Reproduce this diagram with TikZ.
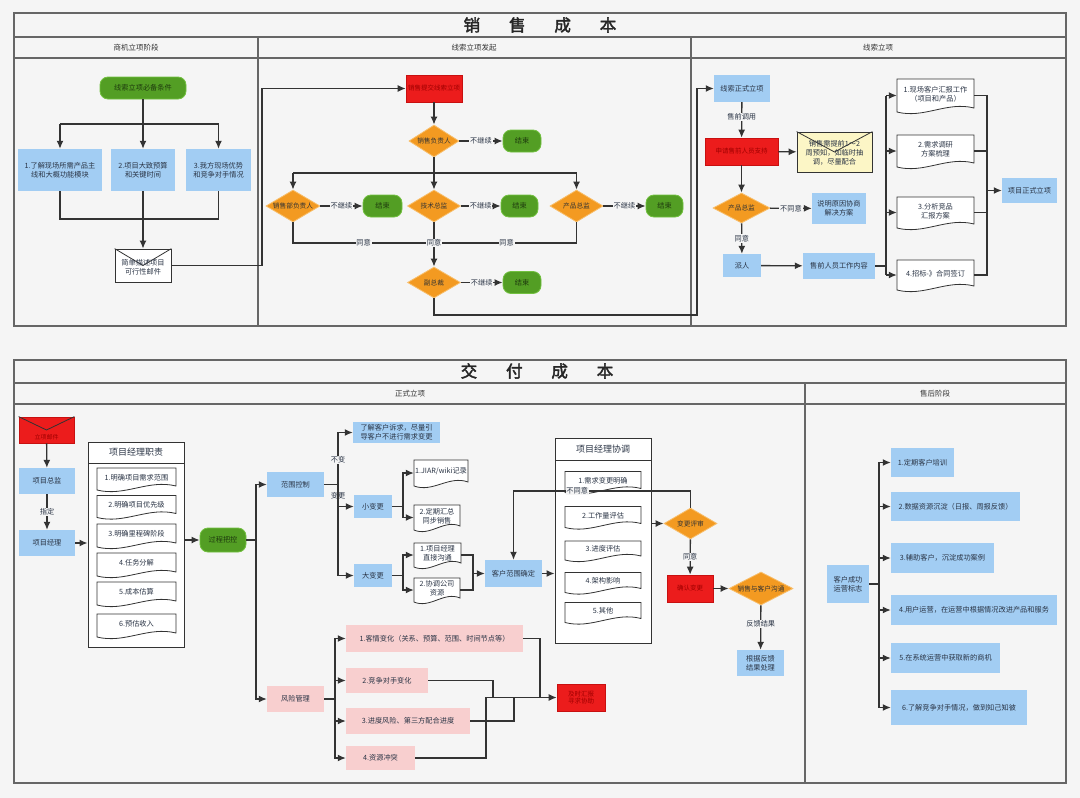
\documentclass[tikz,border=0pt]{standalone}
\usepackage{fontspec}
\setmainfont{Noto Sans CJK SC}
\newfontfamily\titlefont{Noto Sans CJK SC}[AutoFakeBold=2.5]
\usetikzlibrary{arrows.meta,shapes.geometric,calc}
\definecolor{bgC}{HTML}{F5F5F5}
\definecolor{blueC}{HTML}{A2CDF3}
\definecolor{pinkC}{HTML}{F8CFCF}
\definecolor{redC}{HTML}{EC1C1C}
\definecolor{redD}{HTML}{C81010}
\definecolor{redT}{HTML}{A00000}
\definecolor{greenC}{HTML}{539E24}
\definecolor{greenD}{HTML}{72C040}
\definecolor{greenT}{HTML}{1E3A0E}
\definecolor{orgC}{HTML}{F39A21}
\definecolor{orgD}{HTML}{F8BE6A}
\definecolor{yelC}{HTML}{FCF6C6}
\definecolor{txtC}{HTML}{2A3445}
\definecolor{lineC}{HTML}{333333}
\definecolor{frameC}{HTML}{666666}
\newcommand\fs{\fontsize{7.2}{8.8}\selectfont}
\newcommand\docnode[6]{%
  \draw[docline] ({#2-#4/2},{#3-#5/2}) -- ({#2+#4/2},{#3-#5/2}) -- ({#2+#4/2},{#3+#5/2-4})
    .. controls ({#2+#4/2-0.35*#4},{#3+#5/2-11}) and ({#2-#4/2+0.35*#4},{#3+#5/2+7}) .. ({#2-#4/2},{#3+#5/2}) -- cycle;
  \node[docs, minimum width=#4pt, minimum height=#5pt] (#1) at (#2,#3) {};
  \node[base] (#1t) at ([yshift=1.5pt]#1.center) {#6};
}
\newcommand\envnode[6]{%
  \node[envl, minimum width=#4pt, minimum height=#5pt, #6] (#1) at (#2,#3) {};
  \draw[line, line width=0.8pt] (#1.north west) -- (#1.center) -- (#1.north east);
}
\begin{document}
\begin{tikzpicture}[x=1pt,y=-1pt,
  base/.style={inner sep=1pt, align=center, font=\fs, text=txtC},
  sz/.style 2 args={minimum width=#1pt, minimum height=#2pt},
  blue/.style={base, rectangle, fill=blueC},
  pink/.style={base, rectangle, fill=pinkC},
  redb/.style={base, rectangle, fill=redC, draw=redD, line width=0.6pt, text=redT, font=\fontsize{6.5}{7.8}\selectfont},
  green/.style={base, rectangle, rounded corners=8pt, fill=greenC, draw=greenD, line width=0.8pt, text=greenT},
  dia/.style={base, diamond, aspect=2, inner sep=0pt, fill=orgC, draw=orgD, line width=0.8pt, font=\fontsize{6.7}{8}\selectfont, text=black!80},
  envl/.style={base, rectangle, draw=lineC, line width=0.8pt, fill=white},
  docs/.style={base, rectangle, inner sep=0pt},
  frm/.style={draw=frameC, line width=1.1pt},
  line/.style={draw=lineC, line width=1.3pt},
  arr/.style={line, -{Latex[length=8pt,width=7pt]}},
  lbl/.style={base, fill=bgC, inner sep=0.8pt},
  docline/.style={draw=lineC, line width=0.8pt, fill=white},
  cont/.style={draw=lineC, line width=1pt, fill=white},
  hdr/.style={base, font=\fontsize{7.5}{9}\selectfont, text=black!80},
  ttl/.style={base, font=\titlefont\bfseries\fontsize{16.5}{18}\selectfont, text=black!85}
]
\useasboundingbox (0,0) rectangle (1080,798);
\fill[bgC] (0,0) rectangle (1080,798);

% ===== top frame =====
\draw[frm] (14,13) rectangle (1066,326);
\draw[frm] (14,37) -- (1066,37);
\draw[frm] (14,58) -- (1066,58);
\draw[frm] (258,37) -- (258,326);
\draw[frm] (691,37) -- (691,326);
\node[ttl] (t1) at (540,25) {销\hspace{1.75em}售\hspace{1.75em}成\hspace{1.75em}本};
\node[hdr] (h1) at (136,48) {商机立项阶段};
\node[hdr] (h2) at (474,48) {线索立项发起};
\node[hdr] (h3) at (878,48) {线索立项};

% ===== bottom frame =====
\draw[frm] (14,360) rectangle (1066,783);
\draw[frm] (14,383) -- (1066,383);
\draw[frm] (14,404) -- (1066,404);
\draw[frm] (805,383) -- (805,783);
\node[ttl] (t2) at (537,371) {交\hspace{1.75em}付\hspace{1.75em}成\hspace{1.75em}本};
\node[hdr] (h4) at (410,393.5) {正式立项};
\node[hdr] (h5) at (935,393.5) {售后阶段};

% ===== top column 1 =====
\node[green, sz={86}{22}] (g1) at (143,88) {线索立项必备条件};
\node[blue, sz={84}{42}] (b1) at (60,170) {1.了解现场所需产品主\\线和大概功能模块};
\node[blue, sz={64}{42}] (b2) at (143,170) {2.项目大致预算\\和关键时间};
\node[blue, sz={65}{42}] (b3) at (218.5,170) {3.我方现场优势\\和竞争对手情况};
\envnode{env1}{143}{265.5}{56}{33}{}
\node[base] (env1t) at (143,267) {简单描述项目\\可行性邮件};
\coordinate (j1) at (143,124);
\coordinate (j2) at (143,219);
\draw[arr] (g1.south) -- (b2.north);
\draw[line] (j1 -| b1.north) -- (j1 -| b3.north);
\draw[arr] (j1 -| b1.north) -- (b1.north);
\draw[arr] (j1 -| b3.north) -- (b3.north);
\draw[line] (b1.south) -- (j2 -| b1.south) -- (j2 -| b3.south) -- (b3.south);
\draw[arr] (b2.south) -- (env1.north);

% ===== top column 2 =====
\node[redb, sz={56}{27}] (r1) at (434,88.5) {销售提交线索立项};
\node[dia, sz={50}{32}] (d1) at (434,141) {销售负责人};
\node[green, sz={38}{22}] (e1) at (522,141) {结束};
\node[dia, sz={54}{32}] (d2) at (293,206) {销售部负责人};
\node[green, sz={39}{22}] (e2) at (382.5,206) {结束};
\node[dia, sz={53}{32}] (d3) at (434,206) {技术总监};
\node[green, sz={37}{22}] (e3) at (519.5,206) {结束};
\node[dia, sz={53}{32}] (d4) at (576.5,206) {产品总监};
\node[green, sz={37}{22}] (e4) at (664.5,206) {结束};
\node[dia, sz={53}{31}] (d5) at (434,282.5) {副总裁};
\node[green, sz={38}{22}] (e5) at (522,282.5) {结束};
\coordinate (c1) at (262,180);
\draw[arr] (env1.east) -| (c1) |- (r1.west);
\draw[arr] (r1) -- (d1);
\draw[arr] (d1) -- node[lbl]{不继续} (e1);
\coordinate (j3) at (434,173);
\draw[line] (d1.south) -- (j3);
\draw[line] (j3 -| d2.north) -- (j3 -| d4.north);
\draw[arr] (j3 -| d2.north) -- (d2.north);
\draw[arr] (j3) -- (d3.north);
\draw[arr] (j3 -| d4.north) -- (d4.north);
\draw[arr] (d2) -- node[lbl]{不继续} (e2);
\draw[arr] (d3) -- node[lbl]{不继续} (e3);
\draw[arr] (d4) -- node[lbl]{不继续} (e4);
\coordinate (j4) at (434,243);
\draw[line] (d2.south) |- node[lbl,pos=0.75]{同意} (j4);
\draw[line] (d4.south) |- node[lbl,pos=0.745]{同意} (j4);
\draw[arr] (d3.south) -- node[lbl,pos=0.47]{同意} (d5.north);
\draw[arr] (d5) -- node[lbl]{不继续} (e5);

% ===== top column 3 =====
\node[blue, sz={56}{27}] (b4) at (742,88.5) {线索正式立项};
\node[redb, sz={73}{27}] (r2) at (741.5,151.5) {申请售前人员支持};
\envnode{env2}{834.5}{152}{75}{40}{fill=yelC}
\node[base] (env2t) at (834.5,153) {销售需提前1～2\\周预知，如临时抽\\调，尽量配合};
\node[dia, sz={57}{30}] (d6) at (741.5,208) {产品总监};
\node[blue, sz={54}{31}] (b5) at (839,208.5) {说明原因协商\\解决方案};
\node[blue, sz={38}{23}] (b6) at (742,265.5) {派人};
\node[blue, sz={72}{26}] (b7) at (839,266) {售前人员工作内容};
\docnode{doc1}{935.5}{95.5}{77}{33}{1.现场客户汇报工作\\（项目和产品）}
\docnode{doc2}{935.5}{151}{77}{32}{2.需求调研\\方案梳理}
\docnode{doc3}{935.5}{212.5}{77}{31}{3.分析竞品\\汇报方案}
\docnode{doc4}{935.5}{275}{77}{30}{4.招标-》合同签订}
\node[blue, sz={55}{25}] (b8) at (1029.5,190.5) {项目正式立项};
\coordinate (c2) at (697,315);
\draw[arr] (d5.south) |- (c2) |- (b4.west);
\draw[arr] (b4) -- node[lbl,pos=0.42]{售前调用} (r2);
\draw[arr] (r2) -- (env2);
\draw[arr] (r2) -- (d6);
\draw[arr] (d6) -- node[lbl]{不同意} (b5);
\draw[arr] (d6) -- node[lbl]{同意} (b6);
\draw[arr] (b6) -- (b7);
\coordinate (j5) at (886,266);
\draw[line] (b7.east) -- (j5);
\draw[line] (j5 |- doc1.west) -- (j5 |- doc4.west);
\draw[arr] (j5 |- doc1.west) -- (doc1.west);
\draw[arr] (j5 |- doc2.west) -- (doc2.west);
\draw[arr] (j5 |- doc3.west) -- (doc3.west);
\draw[arr] (j5 |- doc4.west) -- (doc4.west);
\coordinate (j6) at (987,190.5);
\draw[line] (doc1.east) -| (j6);
\draw[line] (doc2.east) -| (j6);
\draw[line] (doc3.east) -| (j6);
\draw[line] (doc4.east) -| (j6);
\draw[arr] (j6) -- (b8.west);

% ===== bottom column 1 =====
\envnode{env3}{46.5}{430}{55}{26}{fill=redC, draw=redD}
\node[base, text=redT, font=\fontsize{6}{7}\selectfont] (env3t) at (46.5,437) {立项邮件};
\node[blue, sz={56}{26}] (b9) at (47,481) {项目总监};
\node[blue, sz={56}{26}] (b10) at (47,543) {项目经理};
\node[cont, sz={96}{205}] (pm1) at (136,544.5) {};
\draw[line, line width=1pt] (88,463) -- (184,463);
\node[base, font=\fontsize{9}{10.5}\selectfont] (pm1t) at (136,452.5) {项目经理职责};
\docnode{p1}{136.5}{479}{79}{22}{1.明确项目需求范围}
\docnode{p2}{136.5}{506.5}{79}{22}{2.明确项目优先级}
\docnode{p3}{136.5}{535.5}{79}{23}{3.明确里程碑阶段}
\docnode{p4}{136.5}{564.5}{79}{23}{4.任务分解}
\docnode{p5}{136.5}{593.5}{79}{23}{5.成本估算}
\docnode{p6}{136.5}{625.5}{79}{23}{6.预估收入}
\node[green, sz={46}{24}] (g2) at (223,540) {过程把控};
\draw[arr] (env3) -- (b9);
\draw[arr] (b9) -- node[lbl]{指定} (b10);
\draw[arr] (b10.east) -- (b10.east -| pm1.west);
\draw[arr] (g2.west -| pm1.east) -- (g2.west);

% ===== scope control =====
\node[blue, sz={57}{25}] (b11) at (295.5,484.5) {范围控制};
\node[blue, sz={87}{21}] (b12) at (396.5,432.5) {了解客户诉求，尽量引\\导客户不进行需求变更};
\node[blue, sz={38}{23}] (b13) at (373,506.5) {小变更};
\node[blue, sz={38}{23}] (b14) at (373,575.5) {大变更};
\docnode{q1}{441}{473}{54}{26}{1.JIAR/wiki记录}
\docnode{q2}{437}{517.5}{46}{25}{2.定期汇总\\同步销售}
\docnode{q3}{437.5}{555}{47}{24}{1.项目经理\\直接沟通}
\docnode{q4}{437}{590}{46}{24}{2.协调公司\\资源}
\node[blue, sz={57}{27}] (b15) at (513.5,573.5) {客户范围确定};
\coordinate (j7) at (256,540);
\draw[line] (g2.east) -- (j7);
\draw[arr] (j7) |- (b11.west);
\coordinate (j8) at (338,484.5);
\draw[line] (b11.east) -- (j8);
\draw[arr] (j8) |- node[lbl,pos=0.235]{不变} (b12.west);
\draw[arr] (j8) |- node[lbl,pos=0.26]{变更} (b13.west);
\draw[arr] (j8) |- (b14.west);
\coordinate (j9) at (403,506.5);
\draw[line] (b13.east) -- (j9);
\draw[arr] (j9) |- (q1.west);
\draw[arr] (j9) |- (q2.west);
\coordinate (j10) at (403,575.5);
\draw[line] (b14.east) -- (j10);
\draw[arr] (j10) |- (q3.west);
\draw[arr] (j10) |- (q4.west);
\coordinate (j11) at (473,573.5);
\draw[line] (q3.east) -| (j11);
\draw[line] (q4.east) -| (j11);
\draw[arr] (j11) -- (b15.west);

% ===== PM coordination =====
\node[cont, sz={96}{205}] (pm2) at (603,540.5) {};
\draw[line, line width=1pt] (555,460) -- (651,460);
\node[base, font=\fontsize{9}{10.5}\selectfont] (pm2t) at (603,449) {项目经理协调};
\docnode{c1d}{603}{482}{76}{21}{1.需求变更明确}
\docnode{c2d}{603}{517}{76}{21}{2.工作量评估}
\docnode{c3d}{603}{550.5}{76}{19}{3.进度评估}
\docnode{c4d}{603}{582.5}{76}{20}{4.架构影响}
\docnode{c5d}{603}{612.5}{76}{20}{5.其他}
\node[dia, sz={53}{31}] (d7) at (690.5,523.5) {变更评审};
\node[redb, sz={46}{27}] (r3) at (690,588.5) {确认变更};
\node[dia, sz={64}{33}] (d8) at (761,588.5) {销售与客户沟通};
\node[blue, sz={47}{26}] (b16) at (760.5,663) {根据反馈\\结果处理};
\draw[arr] (b15.east) -- (b15.east -| pm2.west);
\draw[arr] (d7.west -| pm2.east) -- (d7.west);
\coordinate (c3) at (513.5,491);
\draw[arr] (d7.north) |- node[lbl,pos=0.82]{不同意} (c3) -- (b15.north);
\draw[arr] (d7) -- node[lbl]{同意} (r3);
\draw[arr] (r3) -- (d8);
\draw[arr] (d8) -- node[lbl,pos=0.42]{反馈结果} (b16);

% ===== risk management =====
\node[pink, sz={57}{26}] (b17) at (295.5,699) {风险管理};
\node[pink, sz={177}{27}] (k1) at (434.5,638.5) {1.客情变化（关系、预算、范围、时间节点等）};
\node[pink, sz={82}{25}] (k2) at (387,680.5) {2.竞争对手变化};
\node[pink, sz={124}{26}] (k3) at (408,721) {3.进度风险、第三方配合进度};
\node[pink, sz={69}{24}] (k4) at (380.5,758) {4.资源冲突};
\node[redb, sz={48}{27}] (r4) at (581,697.5) {及时汇报\\寻求协助};
\draw[arr] (j7) |- (b17.west);
\coordinate (j12) at (335,699);
\draw[line] (b17.east) -- (j12);
\draw[arr] (j12) |- (k1.west);
\draw[arr] (j12) |- (k2.west);
\draw[arr] (j12) |- (k3.west);
\draw[arr] (j12) |- (k4.west);
\coordinate (c4) at (540,697.5);
\coordinate (c5) at (493,697.5);
\coordinate (c6) at (514,697.5);
\coordinate (c7) at (486,697.5);
\draw[arr] (k1.east) -| (c4) -- (r4.west);
\draw[line] (k2.east) -| (c5);
\draw[line] (k3.east) -| (c6);
\draw[line] (k4.east) -| (c7) -- (c4);

% ===== after-sales =====
\node[blue, sz={42}{38}] (b18) at (848,584) {客户成功\\运营标志};
\node[blue, sz={63}{29}] (s1) at (922.5,462.5) {1.定期客户培训};
\node[blue, sz={129}{29}] (s2) at (955.5,506.5) {2.数据资源沉淀（日报、周报反馈）};
\node[blue, sz={103}{30}] (s3) at (942.5,558) {3.辅助客户，沉淀成功案例};
\node[blue, sz={166}{30}] (s4) at (974,610) {4.用户运营，在运营中根据情况改进产品和服务};
\node[blue, sz={109}{30}] (s5) at (945.5,658) {5.在系统运营中获取新的商机};
\node[blue, sz={136}{35}] (s6) at (959,707.5) {6.了解竞争对手情况，做到知己知彼};
\coordinate (j14) at (879,584);
\draw[line] (b18.east) -- (j14);
\draw[arr] (j14) |- (s1.west);
\draw[arr] (j14) |- (s2.west);
\draw[arr] (j14) |- (s3.west);
\draw[arr] (j14) |- (s4.west);
\draw[arr] (j14) |- (s5.west);
\draw[arr] (j14) |- (s6.west);
\end{tikzpicture}
\end{document}
